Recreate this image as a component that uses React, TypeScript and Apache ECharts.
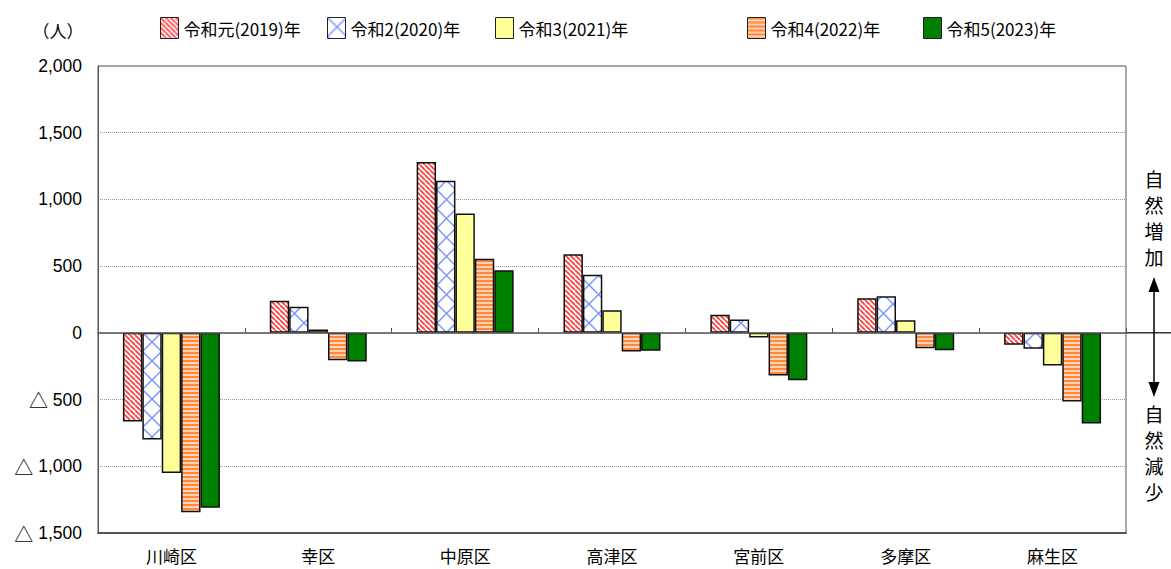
import React, { useEffect, useRef } from 'react';
import * as echarts from 'echarts';

const categories = ['川崎区', '幸区', '中原区', '高津区', '宮前区', '多摩区', '麻生区'];
const seriesNames = ['令和元(2019)年', '令和2(2020)年', '令和3(2021)年', '令和4(2022)年', '令和5(2023)年'];
const values2019 = [-665, 240, 1280, 590, 135, 260, -90];
const values2020 = [-800, 195, 1140, 435, 100, 275, -120];
const values2021 = [-1050, 25, 895, 170, -35, 95, -245];
const values2022 = [-1345, -205, 555, -140, -320, -115, -515];
const values2023 = [-1310, -215, 470, -135, -355, -130, -680];
const yMin = -1500;
const yMax = 2000;
const yInterval = 500;
const legendLefts = [155, 322, 490, 742, 918];

const CJK = "'Noto Sans CJK JP', sans-serif";
const LAT = "'Liberation Sans', Arial, sans-serif";

function makePattern(w: number, h: number, draw: (ctx: CanvasRenderingContext2D) => void) {
  const c = document.createElement('canvas');
  c.width = w;
  c.height = h;
  const ctx = c.getContext('2d')!;
  draw(ctx);
  return { image: c, repeat: 'repeat', imageWidth: w, imageHeight: h } as any;
}

function fmt(v: number) {
  const s = Math.abs(v).toLocaleString('en-US');
  return v < 0 ? '{t|△} ' + s : s;
}

export default function App() {
  const ref = useRef<HTMLDivElement>(null);
  useEffect(() => {
    const chart = echarts.init(ref.current!, null, { renderer: 'svg' });

    const redPat = makePattern(5, 5, (ctx) => {
      ctx.fillStyle = '#ffffff';
      ctx.fillRect(0, 0, 5, 5);
      ctx.strokeStyle = '#ff3b3b';
      ctx.lineWidth = 1.7;
      for (const k of [-5, 0, 5]) {
        ctx.beginPath();
        ctx.moveTo(k, 0);
        ctx.lineTo(k + 5, 5);
        ctx.stroke();
      }
    });
    const bluePat = makePattern(19, 19, (ctx) => {
      ctx.fillStyle = '#ffffff';
      ctx.fillRect(0, 0, 19, 19);
      ctx.strokeStyle = '#7897ff';
      ctx.lineWidth = 1.5;
      for (const k of [-19, 0, 19]) {
        ctx.beginPath();
        ctx.moveTo(k, 0);
        ctx.lineTo(k + 19, 19);
        ctx.stroke();
        ctx.beginPath();
        ctx.moveTo(k + 19, 0);
        ctx.lineTo(k, 19);
        ctx.stroke();
      }
    });
    const orangePat = makePattern(4, 4, (ctx) => {
      ctx.fillStyle = '#ff8a3d';
      ctx.fillRect(0, 0, 4, 2);
      ctx.fillStyle = '#ffd3b3';
      ctx.fillRect(0, 2, 4, 2);
    });
    const fills: any[] = [redPat, bluePat, '#ffff99', orangePat, '#008000'];
    const allValues = [values2019, values2020, values2021, values2022, values2023];

    chart.setOption({
      animation: false,
      backgroundColor: '#ffffff',
      grid: {
        left: 98,
        right: 45,
        top: 66,
        bottom: 36,
        show: true,
        borderColor: '#555',
        borderWidth: 1,
      },
      legend: seriesNames.map((n, i) => ({
        data: [n],
        left: legendLefts[i],
        top: 12,
        icon: 'rect',
        itemWidth: 18,
        itemHeight: 21,
        selectedMode: false,
        textStyle: { fontFamily: CJK, fontSize: 17, color: '#000' },
        itemStyle: { borderColor: '#222', borderWidth: 1 },
      })),
      xAxis: [
        {
          type: 'category',
          data: categories,
          position: 'bottom',
          axisLine: { show: true, onZero: true, lineStyle: { color: '#555', width: 1.5 } },
          axisTick: { show: true, inside: true, length: 5, lineStyle: { color: '#555' } },
          axisLabel: { show: false },
          splitLine: { show: false },
          z: 5,
        },
        {
          type: 'category',
          data: categories,
          position: 'bottom',
          axisLine: { show: true, onZero: false, lineStyle: { color: '#555', width: 2 } },
          axisTick: { show: false },
          axisLabel: { show: true, fontFamily: CJK, fontSize: 17, color: '#000', margin: 14 },
          splitLine: { show: false },
        },
      ],
      yAxis: {
        type: 'value',
        min: yMin,
        max: yMax,
        interval: yInterval,
        axisLine: { show: true, lineStyle: { color: '#555', width: 1 } },
        axisTick: { show: false },
        axisLabel: {
          formatter: (v: number) => fmt(v),
          fontFamily: LAT,
          fontSize: 17.5,
          color: '#000',
          margin: 16,
          rich: {
            t: { fontFamily: CJK, fontSize: 19, color: '#000' },
          },
        },
        splitLine: { show: true, lineStyle: { color: '#999', type: 'dotted', width: 1 } },
      },
      series: seriesNames.map((n, i) => ({
        name: n,
        type: 'bar',
        xAxisIndex: 0,
        data: allValues[i],
        barWidth: 19.4,
        barGap: '0%',
        itemStyle: { color: fills[i], borderColor: '#111', borderWidth: 1.5 },
      })),
    });

    const zeroY = chart.convertToPixel({ yAxisIndex: 0 }, 0) as number;
    chart.setOption({
      graphic: [
        {
          type: 'line',
          shape: { x1: 1126, y1: zeroY, x2: 1171, y2: zeroY },
          style: { stroke: '#333', lineWidth: 1.5 },
        },
        {
          type: 'text',
          x: 58,
          y: 30,
          style: { text: '（人）', font: `17px ${CJK}`, fill: '#000', textAlign: 'center', textVerticalAlign: 'middle' },
        },
        {
          type: 'text',
          x: 1154,
          y: 165,
          style: { text: '自\n然\n増\n加', font: `19px ${CJK}`, lineHeight: 26, fill: '#000', textAlign: 'center', textVerticalAlign: 'top' },
        },
        {
          type: 'text',
          x: 1154,
          y: 400,
          style: { text: '自\n然\n減\n少', font: `19px ${CJK}`, lineHeight: 26, fill: '#000', textAlign: 'center', textVerticalAlign: 'top' },
        },
        {
          type: 'line',
          shape: { x1: 1154, y1: 288, x2: 1154, y2: 386 },
          style: { stroke: '#000', lineWidth: 1.5 },
        },
        {
          type: 'polygon',
          shape: { points: [[1154, 277], [1148.5, 292], [1159.5, 292]] },
          style: { fill: '#000' },
        },
        {
          type: 'polygon',
          shape: { points: [[1154, 397], [1148.5, 382], [1159.5, 382]] },
          style: { fill: '#000' },
        },
      ],
    });

    return () => chart.dispose();
  }, []);
  return (
    <div
      ref={ref}
      style={{ position: 'absolute', left: 0, top: 0, width: 1171, height: 569, background: '#fff' }}
    />
  );
}
